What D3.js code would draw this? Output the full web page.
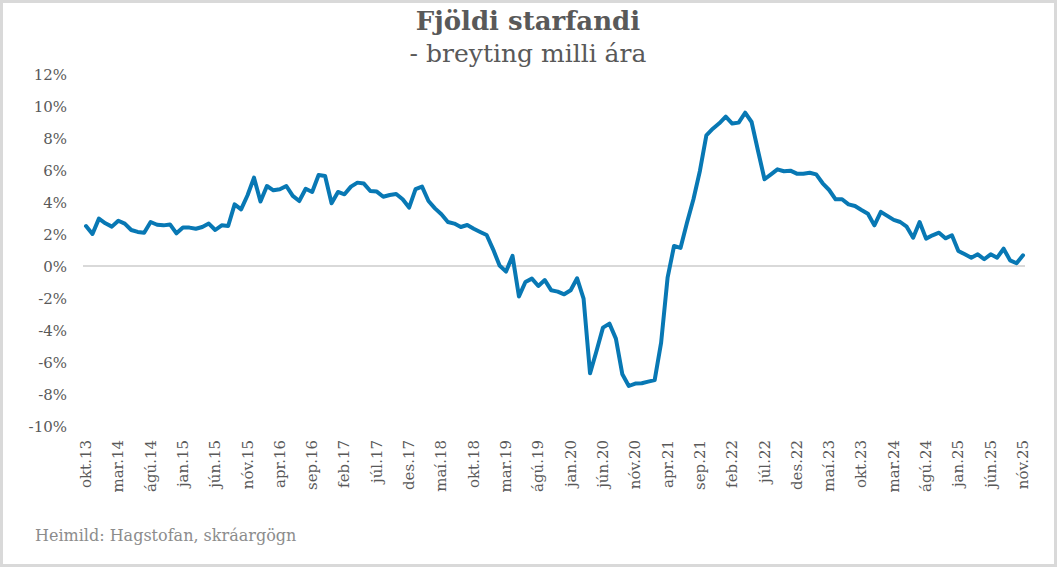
<!DOCTYPE html>
<html>
<head>
<meta charset="utf-8">
<script src="https://cdn.jsdelivr.net/npm/d3@7"></script>
<style>
  html, body { margin: 0; padding: 0; background: #fff; }
  svg { display: block; font-family: Georgia, "DejaVu Serif", serif; }
  .ylab, .xlab { fill: #595959; font-size: 15px; font-family: Georgia, "DejaVu Serif", serif; }
</style>
</head>
<body>
<svg></svg>
<script>
// manaðarheiti á x-ás (á 5 mánaða fresti)
var monthNames = ['jan', 'feb', 'mar', 'apr', 'maí', 'jún', 'júl', 'ágú', 'sep', 'okt', 'nóv', 'des'];
var startYear = 2013, startMonth = 9; // okt.13

// breyting milli ára, %
var values = [
  2.5, 2.0, 2.96, 2.67, 2.46, 2.83, 2.65, 2.25, 2.13, 2.08,
  2.75, 2.58, 2.54, 2.6, 2.04, 2.4, 2.4, 2.33, 2.44, 2.65,
  2.25, 2.54, 2.5, 3.85, 3.54, 4.42, 5.52, 4.03, 5.0, 4.73,
  4.8, 5.0, 4.38, 4.06, 4.83, 4.63, 5.69, 5.63, 3.92, 4.63,
  4.48, 4.96, 5.21, 5.15, 4.69, 4.65, 4.33, 4.44, 4.5, 4.17,
  3.65, 4.8, 4.96, 4.06, 3.6, 3.23, 2.75, 2.65, 2.44, 2.56,
  2.33, 2.13, 1.94, 1.04, 0.03, -0.35, 0.63, -1.9, -1.0, -0.79,
  -1.25, -0.88, -1.52, -1.6, -1.77, -1.52, -0.77, -2.04, -6.71, -5.31,
  -3.85, -3.6, -4.54, -6.77, -7.5, -7.35, -7.33, -7.23, -7.13, -4.79,
  -0.73, 1.25, 1.13, 2.71, 4.17, 5.94, 8.17, 8.58, 8.92, 9.33,
  8.9, 8.96, 9.58, 9.0, 7.19, 5.42, 5.73, 6.04, 5.92, 5.96,
  5.77, 5.77, 5.83, 5.73, 5.17, 4.75, 4.17, 4.17, 3.85, 3.75,
  3.5, 3.27, 2.54, 3.38, 3.13, 2.88, 2.75, 2.46, 1.77, 2.75,
  1.71, 1.92, 2.08, 1.73, 1.92, 0.94, 0.73, 0.52, 0.73, 0.42,
  0.73, 0.52, 1.08, 0.35, 0.17, 0.67
];

var yTicks = [-10, -8, -6, -4, -2, 0, 2, 4, 6, 8, 10, 12];

var width = 1057, height = 567;

function monthLabel(i) {
  var m = (startMonth + i) % 12;
  var y = startYear + Math.floor((startMonth + i) / 12);
  return monthNames[m] + '.' + String(y).slice(2);
}

var data = values.map(function(v, i) { return { i: i, v: v }; });

var svg = d3.select('svg')
  .attr('width', width)
  .attr('height', height);

svg.append('rect')
  .attr('x', 1.5).attr('y', 1.5)
  .attr('width', width - 3).attr('height', height - 3)
  .attr('fill', '#fff')
  .attr('stroke', '#d9d9d9')
  .attr('stroke-width', 3);

var x = d3.scaleLinear()
  .domain([0, values.length - 1])
  .range([86, 1023]);

var y = d3.scaleLinear()
  .domain([-10, 12])
  .range([426, 74]);

// titill
svg.append('text')
  .attr('x', 528).attr('y', 30)
  .attr('text-anchor', 'middle')
  .attr('fill', '#595959')
  .style('font-size', '26px')
  .style('font-weight', 'bold')
  .text('Fjöldi starfandi');

svg.append('text')
  .attr('x', 528).attr('y', 62)
  .attr('text-anchor', 'middle')
  .attr('fill', '#595959')
  .style('font-size', '25px')
  .text('- breyting milli ára');

// y-ás
var yAxis = svg.append('g')
  .attr('transform', 'translate(67,0)')
  .call(d3.axisLeft(y).tickValues(yTicks).tickSize(0).tickPadding(0)
    .tickFormat(function(d) { return d + '%'; }));
yAxis.attr('font-family', null).attr('font-size', null);
yAxis.select('.domain').remove();
yAxis.selectAll('text').attr('class', 'ylab').attr('dy', '0.35em')
  .attr('fill', null);

// núll-lína
svg.append('line')
  .attr('x1', 83).attr('x2', 1025)
  .attr('y1', y(0)).attr('y2', y(0))
  .attr('stroke', '#d9d9d9')
  .attr('stroke-width', 2);

// x-ás merki
var tickIdx = d3.range(0, values.length, 5);
svg.append('g')
  .selectAll('text')
  .data(tickIdx)
  .enter()
  .append('text')
  .attr('class', 'xlab')
  .attr('text-anchor', 'end')
  .attr('transform', function(d) { return 'translate(' + (x(d) + 5) + ',440) rotate(-90)'; })
  .text(function(d) { return monthLabel(d); });

// lína
var line = d3.line()
  .x(function(d) { return x(d.i); })
  .y(function(d) { return y(d.v); });

svg.append('path')
  .datum(data)
  .attr('d', line)
  .attr('fill', 'none')
  .attr('stroke', '#0878b4')
  .attr('stroke-width', 4)
  .attr('stroke-linejoin', 'round')
  .attr('stroke-linecap', 'round');

// heimild
svg.append('text')
  .attr('x', 35).attr('y', 541)
  .attr('fill', '#8c8c8c')
  .style('font-size', '16px')
  .text('Heimild: Hagstofan, skráargögn');
</script>
</body>
</html>
